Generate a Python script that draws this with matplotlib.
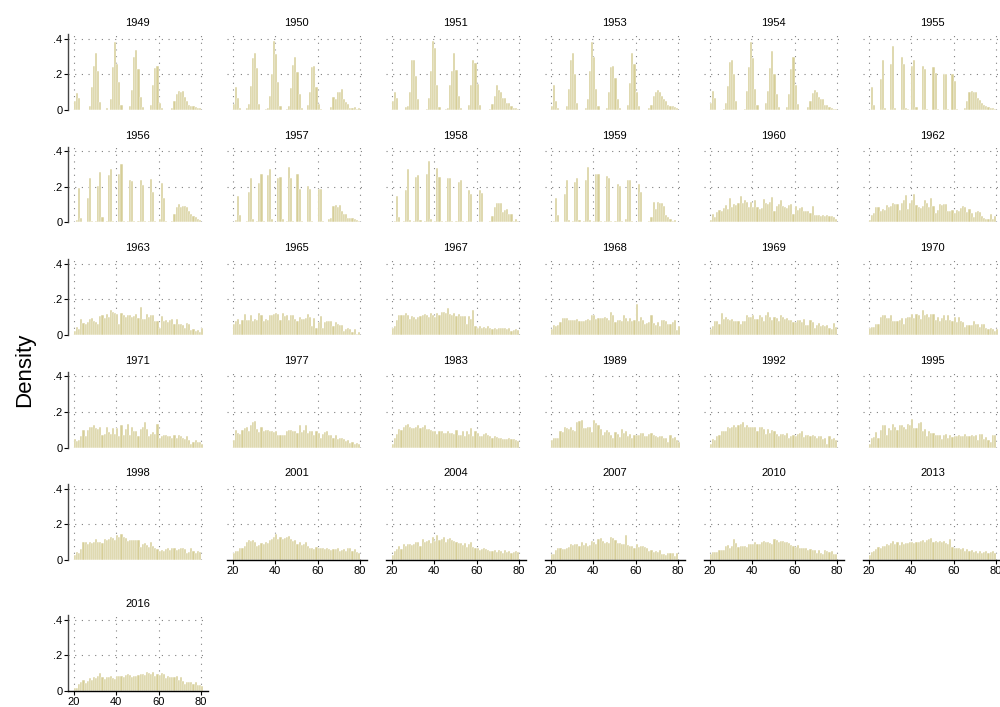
import numpy as np
import matplotlib
matplotlib.use("Agg")
import matplotlib.pyplot as plt

plt.rcParams['font.family'] = ['Liberation Sans', 'DejaVu Sans']

# density per one-year age bin, starting at age 20
d1949 = [.05, .095, .07, 0, 0, 0, 0, .02, .13, .245,
         .32, .22, .045, 0, 0, .01, 0, .06, .24, .385,
         .26, .16, .03, 0, 0, 0, .02, .11, .3, .34,
         .23, .075, .015, 0, 0, 0, .03, .14, .235, .25,
         .04, .01, 0, 0, 0, 0, .01, .05, .09, .105,
         .1, .105, .075, .05, .03, .025, .02, .015, .012, .01]
d1950 = [.035, .13, .065, .01, 0, 0, .01, .035, .135, .29,
         .32, .235, .035, 0, 0, .005, .013, .08, .2, .39,
         .315, .16, .022, 0, 0, .005, .022, .125, .255, .3,
         .215, .088, .013, 0, 0, .028, .1, .24, .248, .13,
         .035, .005, 0, 0, 0, 0, .018, .073, .064, .1,
         .1, .12, .06, .047, .032, .013, .01, .017, .008, .01]
d1951 = [.05, .1, .067, 0, 0, 0, .017, .02, .1, .28,
         .28, .19, .06, 0, 0, 0, .008, .07, .22, .39,
         .35, .14, .017, 0, 0, .003, .013, .14, .22, .32,
         .225, .077, .01, 0, 0, 0, .028, .14, .28, .267,
         .146, .03, 0, 0, 0, 0, .008, .035, .08, .14,
         .115, .1, .07, .065, .042, .042, .025, .013, .012, .008]
d1953 = [.02, .14, .05, .01, 0, 0, 0, .02, .12, .28,
         .32, .2, .04, 0, 0, 0, .01, .06, .22, .385,
         .3, .12, .02, 0, 0, 0, .01, .1, .24, .25,
         .18, .06, .01, 0, 0, 0, .03, .15, .32, .26,
         .1, .02, 0, 0, 0, 0, .01, .03, .08, .1,
         .11, .1, .08, .06, .05, .03, .02, .02, .015, .01]
d1954 = [.04, .105, .065, 0, 0, 0, .005, .04, .135, .27,
         .28, .2, .05, 0, 0, 0, .005, .105, .24, .385,
         .29, .12, .03, 0, 0, 0, .04, .105, .235, .33,
         .2, .09, .015, 0, 0, 0, .015, .09, .23, .3,
         .14, .035, 0, 0, 0, 0, .017, .05, .095, .115,
         .1, .072, .06, .06, .028, .028, .018, .013, .008, .008]
d1955 = [0, .13, .03, 0, 0, .175, .28, .013, 0, 0,
         .26, .36, .013, 0, 0, .3, .26, .01, .005, 0,
         .25, .28, .015, 0, 0, .25, .23, .005, 0, 0,
         .24, .21, .005, 0, 0, .2, .2, .005, 0, .2,
         .165, .005, 0, 0, 0, .013, .05, .1, .105, .1,
         .1, .07, .055, .04, .03, .022, .018, .012, .012, .005]
d1956 = [0, .013, .195, .025, 0, 0, .14, .25, .01, 0,
         .01, .205, .285, .03, 0, .01, .265, .3, .01, 0,
         0, .275, .33, .01, 0, .01, .24, .235, .01, 0,
         .01, .24, .21, .01, 0, .01, .245, .17, .01, 0,
         .02, .22, .14, .01, 0, 0, .01, .05, .085, .105,
         .088, .09, .093, .088, .065, .047, .037, .032, .018, .015]
d1957 = [0, .013, .15, .04, 0, 0, .01, .17, .25, .02,
         0, .01, .22, .275, .01, 0, .265, .3, .02, 0,
         0, .25, .255, .02, 0, .01, .31, .25, .01, 0,
         .275, .19, .01, 0, 0, .205, .19, .01, 0, 0,
         .19, .19, .01, 0, 0, .02, .025, .095, .1, .085,
         .1, .065, .047, .047, .025, .025, .025, .022, .013, .01]
d1958 = [0, .01, .15, .03, 0, .01, .18, .3, .015, 0,
         .01, .255, .265, .015, 0, .01, .275, .345, .02, 0,
         .01, .305, .255, .01, 0, .01, .25, .25, .01, 0,
         .01, .225, .24, .01, 0, .01, .18, .16, .005, 0,
         0, .18, .165, .005, 0, 0, .01, .035, .085, .11,
         .11, .11, .057, .072, .075, .045, .045, .01, .02, .01]
d1959 = [0, .01, .14, .04, 0, .005, .16, .24, .015, 0,
         .01, .23, .25, .015, 0, .01, .24, .31, .015, 0,
         .01, .275, .275, .01, 0, .01, .26, .25, .01, 0,
         .01, .215, .205, .01, 0, .02, .24, .24, .01, 0,
         0, .215, .17, .005, 0, 0, .01, .03, .115, .076,
         .113, .107, .107, .09, .04, .03, .02, .01, .015, .005]
d1960 = [.015, .045, .033, .06, .07, .067, .08, .1, .076, .135,
         .085, .104, .098, .11, .15, .107, .126, .118, .085, .113,
         .085, .126, .085, .076, .08, .13, .107, .104, .113, .145,
         .063, .094, .104, .126, .091, .089, .083, .1, .104, .048,
         .094, .072, .08, .089, .063, .063, .067, .052, .093, .044,
         .044, .04, .039, .044, .037, .041, .035, .039, .033, .022]
d1962 = [.015, .044, .052, .085, .089, .067, .076, .07, .1, .085,
         .09, .11, .104, .104, .072, .107, .126, .155, .076, .107,
         .126, .163, .1, .089, .08, .094, .126, .11, .085, .14,
         .093, .056, .072, .104, .1, .104, .104, .067, .067, .07,
         .052, .07, .067, .08, .093, .089, .059, .076, .052, .033,
         .057, .063, .057, .039, .024, .017, .019, .048, .019, .037]
d1963 = [.02, .045, .033, .088, .07, .06, .073, .092, .095, .08,
         .073, .064, .105, .114, .095, .12, .1, .143, .128, .125,
         .12, .06, .125, .11, .1, .11, .114, .1, .106, .12,
         .095, .16, .088, .088, .117, .1, .11, .11, .077, .077,
         .04, .105, .08, .086, .073, .086, .092, .06, .088, .06,
         .06, .055, .042, .07, .06, .028, .033, .022, .028, .015, .038]
d1965 = [.064, .077, .092, .064, .083, .12, .083, .083, .114, .079,
         .088, .086, .125, .114, .077, .088, .083, .114, .114, .12,
         .125, .12, .086, .125, .106, .114, .083, .11, .114, .092,
         .077, .1, .092, .092, .095, .12, .1, .05, .095, .037,
         .073, .105, .04, .073, .077, .077, .077, .05, .073, .06,
         .055, .055, .022, .033, .04, .031, .015, .033, .007, .015]
d1967 = [.04, .05, .083, .11, .11, .114, .125, .11, .092, .105,
         .1, .092, .1, .106, .11, .117, .11, .1, .125, .11,
         .1, .125, .11, .132, .132, .125, .15, .12, .11, .125,
         .106, .12, .106, .105, .106, .064, .106, .092, .138, .05,
         .04, .05, .04, .046, .04, .05, .04, .031, .04, .033,
         .04, .037, .04, .04, .033, .037, .022, .028, .033, .028]
d1968 = [.033, .055, .05, .055, .073, .095, .098, .098, .087, .087,
         .087, .082, .091, .076, .076, .076, .082, .091, .085, .11,
         .11, .091, .095, .095, .098, .104, .095, .087, .13, .11,
         .073, .082, .087, .08, .11, .098, .08, .098, .076, .082,
         .173, .076, .1, .087, .06, .067, .073, .11, .067, .055,
         .073, .05, .082, .082, .08, .064, .064, .073, .082, .027, .05]
d1969 = [.033, .05, .08, .076, .064, .124, .091, .104, .091, .082,
         .091, .08, .08, .076, .064, .08, .08, .113, .104, .104,
         .11, .091, .091, .113, .1, .076, .113, .127, .1, .087,
         .1, .098, .08, .113, .104, .091, .098, .087, .087, .073,
         .073, .087, .087, .073, .091, .058, .058, .087, .073, .04,
         .055, .069, .049, .055, .05, .055, .04, .036, .069, .045]
d1970 = [.04, .045, .045, .064, .064, .1, .113, .113, .098, .095,
         .11, .08, .076, .076, .082, .098, .064, .095, .1, .104,
         .118, .095, .118, .11, .091, .142, .113, .118, .104, .118,
         .118, .082, .104, .08, .095, .113, .087, .11, .082, .08,
         .104, .073, .104, .076, .073, .044, .055, .055, .055, .076,
         .064, .064, .044, .064, .064, .04, .033, .04, .033, .022, .033]
d1971 = [.045, .036, .04, .064, .096, .064, .1, .118, .113, .124,
         .11, .106, .113, .073, .076, .118, .087, .076, .11, .076,
         .11, .064, .127, .073, .104, .131, .073, .113, .095, .095,
         .064, .104, .118, .142, .106, .064, .076, .087, .076, .131,
         .055, .064, .073, .069, .064, .067, .055, .069, .055, .069,
         .067, .055, .045, .064, .04, .022, .033, .04, .033, .033, .022]
d1977 = [.04, .1, .08, .076, .1, .11, .113, .095, .124, .145,
         .149, .106, .087, .113, .095, .1, .098, .091, .091, .087,
         .091, .073, .069, .073, .069, .091, .098, .098, .095, .091,
         .08, .127, .087, .1, .127, .08, .091, .091, .073, .095,
         .08, .055, .076, .085, .091, .069, .073, .051, .069, .045,
         .051, .055, .045, .036, .04, .027, .033, .018, .027, .02]
d1983 = [.022, .051, .076, .106, .1, .113, .124, .131, .113, .11,
         .11, .118, .124, .11, .118, .124, .106, .106, .098, .091,
         .091, .076, .095, .091, .08, .082, .091, .082, .082, .076,
         .098, .073, .073, .091, .062, .091, .076, .11, .064, .095,
         .08, .064, .064, .076, .08, .073, .064, .055, .067, .058,
         .051, .055, .045, .045, .045, .051, .045, .045, .04, .036]
d1989 = [.04, .055, .055, .051, .095, .087, .118, .11, .106, .113,
         .1, .095, .142, .149, .153, .11, .11, .113, .113, .087,
         .153, .136, .124, .104, .073, .087, .098, .087, .073, .055,
         .087, .076, .058, .102, .08, .091, .064, .076, .055, .073,
         .069, .073, .08, .08, .065, .065, .076, .08, .069, .064,
         .058, .064, .064, .055, .055, .033, .069, .051, .058, .04, .033]
d1992 = [.022, .045, .04, .064, .073, .091, .095, .091, .113, .11,
         .113, .124, .118, .127, .131, .142, .113, .127, .113, .118,
         .118, .118, .091, .118, .118, .106, .076, .106, .082, .098,
         .095, .076, .067, .076, .076, .073, .082, .051, .064, .073,
         .064, .076, .08, .091, .058, .069, .069, .064, .073, .064,
         .055, .064, .064, .045, .055, .022, .064, .045, .055, .04]
d1995 = [.022, .051, .058, .087, .055, .098, .124, .124, .073, .11,
         .1, .131, .118, .098, .124, .124, .113, .104, .131, .124,
         .158, .11, .11, .136, .145, .091, .104, .064, .091, .08,
         .08, .069, .069, .069, .045, .073, .076, .051, .073, .058,
         .064, .064, .069, .064, .064, .076, .064, .064, .073, .064,
         .073, .044, .076, .076, .045, .058, .04, .033, .073, .069]
d1998 = [.03, .045, .04, .06, .1, .1, .09, .1, .095, .1,
         .12, .1, .1, .095, .12, .11, .12, .13, .125, .115,
         .14, .13, .145, .13, .125, .105, .11, .11, .11, .11,
         .11, .075, .09, .095, .085, .075, .1, .08, .07, .06,
         .05, .055, .05, .06, .065, .055, .07, .065, .055, .06,
         .07, .065, .06, .04, .045, .065, .05, .04, .05, .045]
d2001 = [.04, .05, .05, .07, .065, .08, .1, .11, .105, .11,
         .1, .08, .085, .095, .09, .1, .095, .115, .12, .13,
         .145, .12, .13, .12, .125, .13, .135, .12, .105, .115,
         .09, .1, .085, .09, .1, .08, .07, .065, .06, .075,
         .07, .065, .07, .06, .065, .06, .055, .06, .06, .065,
         .05, .055, .06, .05, .065, .07, .05, .06, .045, .04]
d2004 = [.03, .05, .06, .08, .06, .09, .08, .09, .09, .085,
         .09, .1, .1, .08, .12, .1, .105, .11, .095, .13,
         .105, .14, .11, .12, .13, .1, .12, .125, .115, .105,
         .1, .095, .095, .085, .095, .075, .09, .1, .075, .07,
         .065, .055, .06, .07, .06, .055, .05, .05, .055, .045,
         .055, .05, .04, .055, .045, .05, .04, .045, .05, .045]
d2007 = [.032, .035, .054, .069, .069, .06, .06, .069, .073, .092,
         .084, .092, .088, .078, .103, .084, .097, .078, .084, .107,
         .103, .088, .116, .125, .107, .097, .103, .097, .129, .125,
         .11, .097, .093, .092, .092, .14, .084, .078, .078, .065,
         .092, .073, .077, .078, .073, .065, .05, .054, .047, .05,
         .047, .054, .032, .035, .028, .041, .041, .041, .022, .037]
d2010 = [.032, .047, .047, .047, .054, .054, .054, .078, .084, .065,
         .078, .116, .097, .073, .078, .078, .078, .073, .092, .088,
         .092, .103, .088, .092, .103, .107, .103, .103, .097, .092,
         .116, .11, .103, .107, .107, .103, .101, .097, .084, .078,
         .073, .084, .069, .069, .065, .065, .054, .06, .054, .054,
         .041, .054, .041, .032, .054, .05, .047, .05, .032, .035]
d2013 = [.03, .045, .05, .06, .075, .07, .08, .08, .09, .085,
         .095, .105, .09, .1, .085, .1, .09, .095, .095, .1,
         .1, .095, .1, .1, .105, .11, .1, .115, .12, .125,
         .1, .105, .1, .105, .1, .105, .095, .09, .12, .075,
         .065, .07, .065, .06, .07, .05, .06, .05, .055, .045,
         .05, .04, .05, .04, .045, .05, .04, .045, .05, .04]
d2016 = [.019, .019, .038, .053, .06, .047, .057, .072, .06, .079,
         .072, .085, .104, .079, .066, .079, .079, .085, .072, .066,
         .085, .085, .085, .079, .091, .094, .091, .079, .085, .085,
         .091, .094, .098, .091, .109, .104, .098, .109, .085, .094,
         .091, .104, .094, .072, .085, .079, .079, .079, .085, .06,
         .079, .057, .042, .053, .053, .053, .042, .053, .034, .032, .028]

years = [1949, 1950, 1951, 1953, 1954, 1955,
         1956, 1957, 1958, 1959, 1960, 1962,
         1963, 1965, 1967, 1968, 1969, 1970,
         1971, 1977, 1983, 1989, 1992, 1995,
         1998, 2001, 2004, 2007, 2010, 2013,
         2016]
series = [d1949, d1950, d1951, d1953, d1954, d1955,
          d1956, d1957, d1958, d1959, d1960, d1962,
          d1963, d1965, d1967, d1968, d1969, d1970,
          d1971, d1977, d1983, d1989, d1992, d1995,
          d1998, d2001, d2004, d2007, d2010, d2013,
          d2016]
first_age = 20
xticks = [20, 40, 60, 80]
yticks = [0, .2, .4]
ylabels = ['0', '.2', '.4']

BAR = '#d6ce97'
GRID = '#808080'

W, H = 1000, 707
fig = plt.figure(figsize=(W / 100, H / 100), dpi=100)

col_left = [68, 227, 386, 545, 704, 863]
row_base = [110, 222.5, 335, 447.5, 560, 691]
ax_w, ax_h = 139.7, 75.6
xmin, xmax = 17.2, 83.2
ymax = 0.425

n = len(years)
ncol = 6
for i in range(n):
    r, c = divmod(i, ncol)
    ax = fig.add_axes([col_left[c] / W, 1 - row_base[r] / H, ax_w / W, ax_h / H])
    vals = np.asarray(series[i], dtype=float)
    ages = first_age + np.arange(len(vals))
    ax.bar(ages, vals, width=1, align='edge', color=BAR,
           edgecolor='white', linewidth=0.35, zorder=2)

    # dotted grid
    for yv in yticks[1:]:
        ax.plot([xmin, xmax], [yv, yv], ls=(0, (1, 5)), color=GRID, lw=0.8, zorder=1)
    for xv in xticks:
        ax.plot([xv, xv], [0, ymax], ls=(0, (1, 5)), color=GRID, lw=0.8, zorder=1)

    ax.set_xlim(xmin, xmax)
    ax.set_ylim(0, ymax)
    for s in ax.spines.values():
        s.set_visible(False)
    ax.set_title(str(years[i]), fontsize=8, pad=6)

    bottom = (i + ncol >= n)
    if c == 0:
        ax.spines['left'].set_visible(True)
        ax.spines['left'].set_color('#444444')
        ax.spines['left'].set_linewidth(1)
        ax.set_yticks(yticks)
        ax.set_yticklabels(ylabels)
        ax.tick_params(axis='y', labelsize=8, length=3, width=0.8, pad=1)
    else:
        ax.set_yticks([])
    if bottom:
        ax.spines['bottom'].set_visible(True)
        ax.spines['bottom'].set_color('black')
        ax.spines['bottom'].set_linewidth(1)
        ax.set_xticks(xticks)
        ax.tick_params(axis='x', labelsize=8, length=3, width=0.8, pad=1)
    else:
        ax.set_xticks([])

fig.text(25 / W, 1 - 370 / H, 'Density', rotation=90, fontsize=16,
         ha='center', va='center')

fig.savefig('out.png', dpi=100)
